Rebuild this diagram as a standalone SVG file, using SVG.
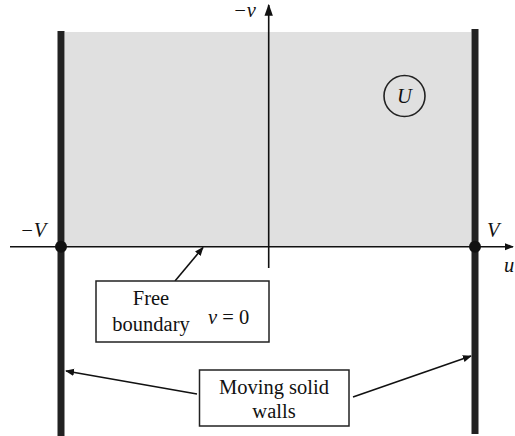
<svg xmlns="http://www.w3.org/2000/svg" width="515" height="436" viewBox="0 0 515 436" font-family="Liberation Serif, Times New Roman, DejaVu Serif, serif" font-size="20.5">
<style>
.t{font-family:'Liberation Serif', 'DejaVu Serif', serif;font-size:20.5px;fill:#111}
.it{font-style:italic}
.ln{stroke:#111;stroke-width:1.6;fill:none}
.wall{stroke:#222;stroke-width:7}
.box{fill:#fff;stroke:#222;stroke-width:1.5}
</style>
<defs>
<marker id="ah" viewBox="0 0 10 10" refX="9" refY="5" markerWidth="9" markerHeight="9" markerUnits="userSpaceOnUse" orient="auto">
<path d="M0,1 L10,5 L0,9 z" fill="#111"/>
</marker>
<marker id="ahb" viewBox="0 0 10 10" refX="9" refY="5" markerWidth="12" markerHeight="12" markerUnits="userSpaceOnUse" orient="auto">
<path d="M0,1.5 L10,5 L0,8.5 z" fill="#111"/>
</marker>
</defs>
<g id="region">
<rect x="65" y="32" width="406" height="215" fill="#e0e0e0"/>
</g>
<g id="axes">
<line class="ln" x1="10" y1="246.7" x2="513" y2="246.7" marker-end="url(#ah)"/>
<line class="ln" x1="268.7" y1="268" x2="268.7" y2="5" marker-end="url(#ahb)"/>
<text class="t it" x="233" y="17">−v</text>
<text class="t it" x="504" y="272">u</text>
</g>
<g id="walls">
<line class="wall" x1="61" y1="31" x2="61" y2="436"/>
<line class="wall" x1="475" y1="29" x2="475" y2="434"/>
<circle cx="61" cy="246.7" r="6" fill="#111"/>
<circle cx="475" cy="246.7" r="6" fill="#111"/>
<text class="t it" x="20" y="237">−V</text>
<text class="t it" x="487" y="237">V</text>
</g>
<g id="U">
<circle cx="404.5" cy="96" r="20.5" fill="none" stroke="#222" stroke-width="1.6"/>
<text class="t it" x="404.5" y="103" text-anchor="middle">U</text>
</g>
<g id="connectors">
<line class="ln" x1="175" y1="281" x2="203" y2="247.5" marker-end="url(#ah)"/>
<line class="ln" x1="197" y1="394" x2="66" y2="371" marker-end="url(#ah)"/>
<line class="ln" x1="353" y1="397" x2="471" y2="356" marker-end="url(#ah)"/>
</g>
<g id="free-boundary">
<rect class="box" x="96" y="281" width="173" height="61"/>
<text class="t" x="151" y="305" text-anchor="middle">Free</text>
<text class="t" x="151" y="331" text-anchor="middle">boundary</text>
<text class="t" x="208" y="324"><tspan class="it">v</tspan> = 0</text>
</g>
<g id="moving-walls">
<rect class="box" x="199.5" y="370" width="149.5" height="56"/>
<text class="t" x="274" y="394" text-anchor="middle">Moving solid</text>
<text class="t" x="274" y="418" text-anchor="middle">walls</text>
</g>
</svg>
